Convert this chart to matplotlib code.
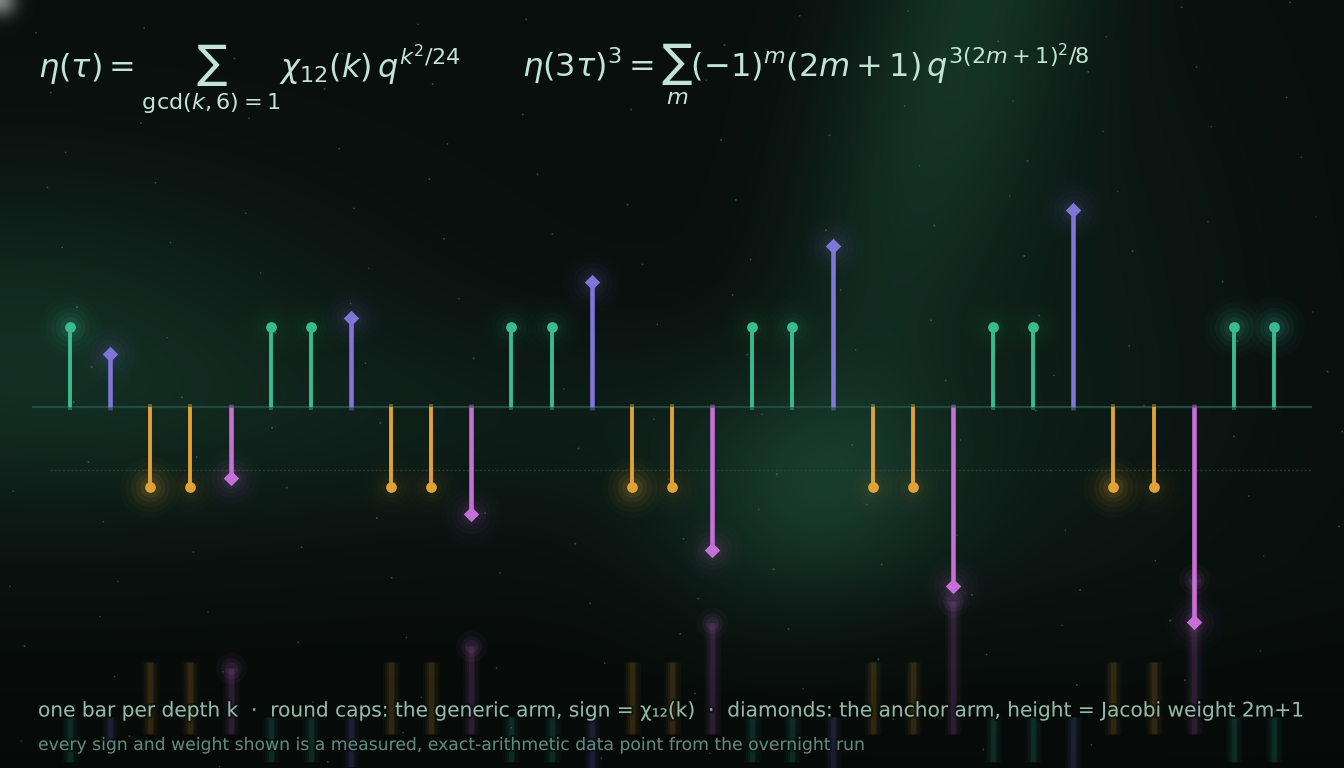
import numpy as np
import matplotlib
matplotlib.use('Agg')
from matplotlib import pyplot as plt
import matplotlib.patheffects as pe

# ---- data: one bar per depth k (left to right) ----
# G = generic arm (round cap, sign = chi_12), A = anchor arm (diamond, Jacobi weight)
arm = list('GAGGAGGAGGAGGAGGAGGAGGAGGAGGAGG')
generic_sign = [1, -1, -1, 1, 1, -1, -1, 1, 1, -1, -1, 1, 1, -1, -1, 1, 1, -1, -1, 1, 1]
anchor_sign = [1, -1, 1, -1, 1, -1, 1, -1, 1, -1]
anchor_weight = [1, 3, 5, 7, 9, 11, 13, 15, 17, 19]

eq_left = r'$\eta(\tau) = \sum_{\mathrm{gcd}(k,6)=1} \chi_{12}(k)\,q^{k^2/24}$'
eq_right = r'$\eta(3\tau)^3 = \sum_m (-1)^m(2m+1)\,q^{3(2m+1)^2/8}$'
note_1 = ('one bar per depth k  \u00b7  round caps: the generic arm, sign = \u03c7\u2081\u2082(k)  \u00b7  '
          'diamonds: the anchor arm, height = Jacobi weight 2m+1')
note_2 = 'every sign and weight shown is a measured, exact-arithmetic data point from the overnight run'

# ---- styling ----
W, H = 1344, 768
col_up, col_dn = '#38bb8f', '#e0a136'
col_anchor_up, col_anchor_dn = '#7f76d8', '#c66fd6'
glow = [1.0, .6, 1.0, .35, .7, .35, .35, .6, .35, .35, .6, .5, .5, .6, 1.0, .35,
        .6, .35, .5, .6, .35, .35, .6, .35, .35, .6, 1.0, .35, .6, 1.0, 1.0]

# bar heights: generic arm at +-1, anchor arm grows with its weight
heights, colors, markers = [], [], []
gi, ai = 0, 0
for a in arm:
    if a == 'G':
        s = generic_sign[gi]; gi += 1
        heights.append(s * 1.0)
        colors.append(col_up if s > 0 else col_dn)
        markers.append('o')
    else:
        s = anchor_sign[ai]; w = anchor_weight[ai]; ai += 1
        heights.append(s * (0.55 + 0.1125 * w))
        colors.append(col_anchor_up if s > 0 else col_anchor_dn)
        markers.append('D')
heights = np.array(heights)
xpos = np.arange(len(arm))


def px_box(x0, y0, x1, y1):
    return [x0 / W, 1 - y1 / H, (x1 - x0) / W, (y1 - y0) / H]


fig = plt.figure(figsize=(W / 100, H / 100), dpi=100)

# ---- background: dark sky with a green aurora ----
yy, xx = np.mgrid[0:H, 0:W].astype(float)


def blob(cx, cy, sx, sy):
    return np.exp(-(((xx - cx) / sx) ** 2 + ((yy - cy) / sy) ** 2) / 2)


band_cx = 975 - 0.30 * yy
band = np.exp(-((xx - band_cx) / 80) ** 2 / 2) * np.clip(1.15 - yy / 620, 0, 1)
light = (0.85 * band + 0.7 * blob(820, 500, 110, 75) + 0.7 * blob(0, 340, 230, 110)
         + 0.3 * blob(420, 420, 380, 70) + 0.25 * blob(1080, 300, 120, 200))
base = np.array([9, 15, 13]) / 255
tint = np.array([13, 40, 29]) / 255
img = base + light[..., None] * tint
img *= (1 - 0.35 * np.clip((yy - 560) / 200, 0, 1))[..., None]
img += blob(0, 0, 11, 11)[..., None] * 0.45
img = np.clip(img, 0, 1)

bg = fig.add_axes([0, 0, 1, 1], zorder=0)
bg.imshow(img, extent=[0, W, H, 0], aspect='auto', interpolation='bilinear')
# faint stars on a quasi-random (R2) sequence
n = np.arange(1, 170)
sx = (0.5 + n * 0.7548776662) % 1 * W
sy = (0.5 + n * 0.5698402910) % 1 * H
bg.scatter(sx, sy, s=1.0 + 1.3 * ((n * 0.618) % 1), color='#a9c4b8',
           alpha=0.3, linewidths=0)
bg.set_xlim(0, W)
bg.set_ylim(H, 0)
bg.axis('off')

# ---- reflection (mirrored, squashed, faint, blurred) ----
rb, rs = 712, 49.6
ref = fig.add_axes(px_box(32, 560, 1312, 768), zorder=1)
ref.set_xlim(-0.95, 30.95)
ref.set_ylim((768 - rb) / rs, (560 - rb) / rs)
ref.axis('off')
ref_start = np.where(heights < 0, 0.45, 0.1)
for lw, al in [(12, 0.03), (9, 0.04), (6, 0.06), (3.5, 0.09)]:
    ref.vlines(xpos, ref_start, heights, colors=colors, lw=lw, alpha=al)
for x, h, c, m in zip(xpos, heights, colors, markers):
    if m == 'D' and h < 0:
        for s, al in [(500, 0.04), (220, 0.07), (90, 0.08)]:
            ref.scatter([x], [h], s=s, color=c, alpha=al, linewidths=0)

# ---- main stems ----
ax = fig.add_axes(px_box(32, 130, 1312, 660), zorder=2)
ax.set_xlim(-0.95, 30.95)
ax.set_ylim(-(660 - 407) / 80, (407 - 130) / 80)
ax.axis('off')

ax.axhline(0, color='#1f4a3e', lw=1.6, zorder=1)
ax.plot([-0.5, 30.95], [-0.79, -0.79], color='#2c4d40', lw=1.0, ls=(0, (1.5, 1.5)),
        alpha=0.7, zorder=1)

for x, h, c, m, g in zip(xpos, heights, colors, markers, glow):
    lw = 3.3 if m == 'D' else 2.8
    ax.plot([x, x], [-0.04 * np.sign(h), 0], color=c, lw=lw, alpha=0.45,
            solid_capstyle='butt', zorder=2)
    ax.plot([x, x], [0, h], color=c, lw=lw, solid_capstyle='butt', zorder=3)
    for s, al in [(1900, 0.025), (1300, 0.035), (800, 0.05), (450, 0.07), (220, 0.09)]:
        ax.scatter([x], [h], s=s, color=c, alpha=al * g, linewidths=0, zorder=2)
    ax.scatter([x], [h], marker=m, s=62 if m == 'D' else 60, color=c,
               linewidths=0, zorder=4)

# ---- text ----
eq_col = '#c2e4d6'
fig.text(38 / W, 1 - 77 / H, eq_left, fontsize=23, color=eq_col, va='baseline')
fig.text(522 / W, 1 - 77 / H, eq_right, fontsize=23, color=eq_col, va='baseline')

shadow = [pe.withStroke(linewidth=3, foreground='#060a09', alpha=0.5)]
fig.text(38 / W, 1 - 711 / H, note_1, fontsize=14.5, color='#92b8a8', va='center',
         path_effects=shadow)
fig.text(38 / W, 1 - 745 / H, note_2, fontsize=12.4, color='#5f8878', va='center',
         path_effects=shadow)

fig.savefig('out.png', dpi=100)
